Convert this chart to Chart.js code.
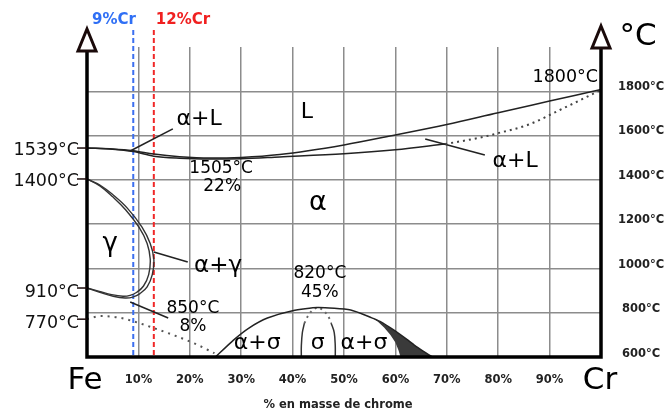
<!DOCTYPE html>
<html>
<head>
<meta charset="utf-8">
<script src="https://cdn.jsdelivr.net/npm/chart.js@4.4.1/dist/chart.umd.min.js"></script>
<style>
html,body{margin:0;padding:0;background:#fff}
</style>
</head>
<body>
<canvas id="fecr" width="665" height="412"></canvas>
<script>
// % Cr / °C values
const crTicks = [10,20,30,40,50,60,70,80,90];
const tempTicks = [600,800,1000,1200,1400,1600,1800];
const markTemps = [1539,1400,910,770];
const alloyLines = [9,13];

const liquidus = [[0,1539],[5,1535],[9,1527],[13,1512],[18,1500],[24,1494],[30,1497],[37.5,1510],[50,1553],[60,1598],[70,1645],[80,1698],[90,1750],[100,1802]];
const solidus = [[0,1539],[5,1534],[9,1523],[13,1502],[18,1493],[24,1490],[30,1491],[37.5,1499],[50,1513],[60,1531],[69.7,1557]];
const solidusDots = [[69.7,1557],[76.5,1586],[80,1606],[86,1645],[92,1710],[100,1800]];

const alphaLoop = [[0,1400],[2.5,1373],[5.1,1328],[7.8,1270],[10.7,1184],[12.3,1110],[13,1040],[12.7,970],[11.7,915],[10.3,885],[8.9,869],[7.4,865],[5.1,873],[2.5,891],[0,910]];
const gammaLoop = [[0,1400],[2.5,1369],[5,1320],[7.5,1262],[10.2,1180],[11.7,1110],[12.3,1040],[12,970],[11,919],[9.7,891],[8.4,877],[7,873],[4.8,880],[2.4,895],[0,910]];

const curie = [[0,770],[1.5,780],[2.7,784],[6,778],[9.1,760],[13,730],[17,697],[21,660],[24.8,617]];

const sigmaDome = [[25,600],[28.5,676],[31.5,730],[35.1,775],[40,808],[44.9,822],[51.3,811],[55.4,776],[57,760],[59.5,724],[62.3,678],[64,648],[65.7,622],[67.2,600]];
const sigmaDark = [[55.4,776],[57,760],[59.5,724],[62.3,678],[64,648],[65.7,622],[67.2,600],[61,600],[60.6,630],[60,665],[59,700],[57.8,732],[56.6,758],[55.4,776]];
const sigmaLeft = [[41.7,600],[41.7,650],[41.9,710],[42.3,752]];
const sigmaRight = [[47.5,752],[48.1,710],[48.3,650],[48.3,600]];
const sigmaDots = [[42.3,752],[43,785],[43.8,808],[44.9,822],[46,808],[46.9,785],[47.5,752]];

const leaders = [
  [[8.4,1526],[16.7,1625]],
  [[65.8,1580],[77.4,1508]],
  [[13,1072],[19.6,1027]],
  [[8.4,847],[15.8,775]]
];

const labels = [
  ['α+L',21.8,1668,22],['L',42.8,1700,22],['α',44.9,1290,27],['γ',4.5,1105,26],
  ['α+γ',25.5,1010,23],['α+L',83.3,1478,22],
  ['1505°C',26.1,1448,17],['22%',26.3,1366,17],
  ['820°C',45.3,975,17],['45%',45.3,890,17],
  ['850°C',20.6,817,17],['8%',20.6,736,17],
  ['α+σ',33.1,662,22],['σ',44.9,662,22],['α+σ',53.9,662,22]
];

function line(pts, opts) {
  return Object.assign({
    data: pts.map(p => ({x:p[0], y:p[1]})),
    showLine: true, pointRadius: 0, borderColor: '#222', borderWidth: 1.5,
    tension: 0.35, fill: false
  }, opts || {});
}
const smooth = {cubicInterpolationMode: 'monotone'};

const datasets = [
  line(liquidus, smooth),
  line(solidus, smooth),
  line(solidusDots, Object.assign({borderDash: [2,4], borderWidth: 2, borderColor: '#444'}, smooth)),
  line(alphaLoop, {borderWidth: 1.4, borderColor: '#333', tension: 0.4}),
  line(gammaLoop, {borderWidth: 1.4, borderColor: '#333', tension: 0.4}),
  line(curie, Object.assign({borderDash: [2,5], borderWidth: 2, borderColor: '#555'}, smooth)),
  line(sigmaDome, {tension: 0.2}),
  line(sigmaLeft, {borderColor: '#333'}),
  line(sigmaRight, {borderColor: '#333'}),
  line(sigmaDots, {borderDash: [2,4], borderWidth: 2, borderColor: '#666'})
];
leaders.forEach(l => datasets.push(line(l, {tension: 0, borderWidth: 1.6, borderColor: '#222'})));

const font = 'DejaVu Sans';

const decor = {
  id: 'decor',
  beforeDatasetsDraw(chart) {
    const {ctx, scales:{x, y}, chartArea:a} = chart;
    ctx.save();
    // dark two-phase band on the right of the sigma dome
    ctx.fillStyle = '#3a3a3a';
    ctx.beginPath();
    sigmaDark.forEach(([c, t], i) => {
      const px = x.getPixelForValue(c), py = y.getPixelForValue(t);
      i ? ctx.lineTo(px, py) : ctx.moveTo(px, py);
    });
    ctx.closePath();
    ctx.fill();
    // alloy lines 9% and 12%
    ctx.lineWidth = 2;
    ctx.setLineDash([5,3]);
    [['#3b6ff0', alloyLines[0]], ['#f02828', alloyLines[1]]].forEach(([c, v]) => {
      ctx.strokeStyle = c;
      ctx.beginPath();
      ctx.moveTo(x.getPixelForValue(v), 30);
      ctx.lineTo(x.getPixelForValue(v), a.bottom);
      ctx.stroke();
    });
    ctx.restore();
  },
  afterDraw(chart) {
    const {ctx, scales:{x, y}, chartArea:a} = chart;
    ctx.save();
    // axes
    ctx.strokeStyle = '#000';
    ctx.lineWidth = 3.5;
    ctx.beginPath();
    ctx.moveTo(a.left, 52); ctx.lineTo(a.left, a.bottom);
    ctx.lineTo(a.right, a.bottom); ctx.lineTo(a.right, 49);
    ctx.stroke();
    // arrow heads
    ctx.lineWidth = 3;
    ctx.strokeStyle = '#1a0a0a';
    ctx.fillStyle = '#fff';
    [[a.left, 29, 51], [a.right, 26, 48]].forEach(([cx, t, b]) => {
      ctx.beginPath();
      ctx.moveTo(cx, t); ctx.lineTo(cx + 9, b); ctx.lineTo(cx - 9, b); ctx.closePath();
      ctx.fill(); ctx.stroke();
    });
    // left temperature marks
    ctx.fillStyle = '#111';
    ctx.lineWidth = 1.5;
    ctx.font = '17.5px ' + font;
    ctx.textAlign = 'right';
    ctx.textBaseline = 'middle';
    markTemps.forEach(t => {
      const py = y.getPixelForValue(t);
      ctx.beginPath(); ctx.moveTo(a.left - 10, py); ctx.lineTo(a.left, py); ctx.stroke();
      ctx.fillText(t + '°C', a.left - 8, py + (t < 1000 ? 4 : 2));
    });
    // tick labels
    ctx.fillStyle = '#222';
    ctx.font = 'bold 11.5px ' + font;
    ctx.textAlign = 'center';
    tempTicks.forEach(t => ctx.fillText(t + '°C', a.right + 40, y.getPixelForValue(t) - 3));
    crTicks.forEach(c => ctx.fillText(c + '%', x.getPixelForValue(c), a.bottom + 23));
    ctx.fillText('% en masse de chrome', 338, 405);
    // element symbols and unit
    ctx.fillStyle = '#000';
    ctx.font = '31px ' + font;
    ctx.fillText('Fe', 85, 381);
    ctx.fillText('Cr', 600, 381);
    ctx.fillText('°C', 638, 37);
    // alloy labels
    ctx.font = 'bold 15px ' + font;
    ctx.fillStyle = '#2f6ff5';
    ctx.fillText('9%Cr', 114, 20);
    ctx.fillStyle = '#f02020';
    ctx.fillText('12%Cr', 183, 20);
    // phase labels
    ctx.fillStyle = '#000';
    labels.forEach(([txt, c, t, s]) => {
      ctx.font = s + 'px ' + font;
      ctx.fillText(txt, x.getPixelForValue(c), y.getPixelForValue(t));
    });
    ctx.font = '17.5px ' + font;
    ctx.textAlign = 'right';
    ctx.fillText('1800°C', a.right - 3, 77);
    ctx.restore();
  }
};

new Chart(document.getElementById('fecr'), {
  type: 'scatter',
  data: { datasets },
  options: {
    responsive: false,
    animation: false,
    layout: { padding: { left: 87, right: 64, top: 47, bottom: 55 } },
    plugins: { legend: { display: false }, tooltip: { enabled: false } },
    scales: {
      x: {
        type: 'linear', min: 0, max: 100,
        ticks: { display: false, stepSize: 10 },
        grid: { color: '#8c8c8c', lineWidth: 1.5, drawTicks: false },
        border: { display: false }
      },
      y: {
        type: 'linear', min: 600, max: 1993,
        ticks: { display: false, stepSize: 200 },
        grid: { color: c => c.tick && c.tick.value > 1800 ? 'rgba(0,0,0,0)' : '#8c8c8c', lineWidth: 1.5, drawTicks: false },
        border: { display: false }
      }
    }
  },
  plugins: [decor]
});
</script>
</body>
</html>
